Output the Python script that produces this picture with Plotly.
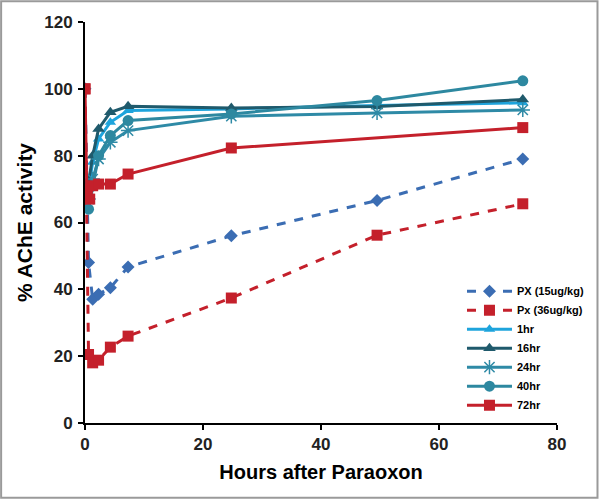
import plotly.graph_objects as go

# ---- data ----
t_px = [0, 0.6, 1.3, 2.3, 4.3, 7.3, 24.8, 49.5, 74.2]
px15 = [100, 48, 37, 38.5, 40.5, 46.7, 56, 66.6, 79]
px36 = [100, 20.5, 18, 18.8, 22.7, 26, 37.4, 56.2, 65.6]

t_rec = [0.6, 1.3, 2.3, 4.3, 7.3, 24.8, 49.5, 74.2]
hr1 = [70, 78, 85, 90, 93.5, 94, 95, 95.8]
hr16 = [72, 80, 88, 93, 94.8, 94.3, 94.7, 96.8]
hr24 = [67, 73, 79, 84, 87.5, 91.8, 92.8, 93.7]
hr40 = [64, 71, 80, 86, 90.5, 92.5, 96.5, 102.4]

t_72 = [0, 0.3, 0.8, 1.3, 2.3, 4.3, 7.3, 24.8, 74.2]
hr72 = [100, 70, 67, 71, 71.5, 71.5, 74.5, 82.3, 88.4]

x_ticks = [0, 20, 40, 60, 80]
y_ticks = [0, 20, 40, 60, 80, 100, 120]

BLUE = "#3b6db3"
RED = "#c4202b"
LIGHT = "#1ea4dc"
DARK = "#1f5a6c"
TEAL24 = "#2e8aa6"
TEAL40 = "#2d88a0"

fig = go.Figure()
fig.add_trace(go.Scatter(x=t_px, y=px15, name="PX (15ug/kg)", mode="lines+markers",
                         line=dict(color=BLUE, width=3, dash="dash"),
                         marker=dict(symbol="diamond", size=10, color=BLUE)))
fig.add_trace(go.Scatter(x=t_px, y=px36, name="Px (36ug/kg)", mode="lines+markers",
                         line=dict(color=RED, width=3, dash="dash"),
                         marker=dict(symbol="square", size=11, color=RED)))
fig.add_trace(go.Scatter(x=t_rec, y=hr1, name="1hr", mode="lines+markers",
                         line=dict(color=LIGHT, width=3),
                         marker=dict(symbol="triangle-up", size=10, color=LIGHT)))
fig.add_trace(go.Scatter(x=t_rec, y=hr16, name="16hr", mode="lines+markers",
                         line=dict(color=DARK, width=3),
                         marker=dict(symbol="triangle-up", size=11, color=DARK)))
fig.add_trace(go.Scatter(x=t_rec, y=hr24, name="24hr", mode="lines+markers",
                         line=dict(color=TEAL24, width=3),
                         marker=dict(symbol="asterisk-open", size=12, color=TEAL24,
                                     line=dict(color=TEAL24, width=1.5))))
fig.add_trace(go.Scatter(x=t_rec, y=hr40, name="40hr", mode="lines+markers",
                         line=dict(color=TEAL40, width=3),
                         marker=dict(symbol="circle", size=11, color=TEAL40)))
fig.add_trace(go.Scatter(x=t_72, y=hr72, name="72hr", mode="lines+markers",
                         line=dict(color=RED, width=3),
                         marker=dict(symbol="square", size=11, color=RED)))

axis_font = dict(family="Liberation Sans, Arial, sans-serif", size=17, color="#222222")
fig.update_layout(
    width=600, height=499,
    margin=dict(l=85, r=42, t=22, b=76),
    paper_bgcolor="white", plot_bgcolor="white",
    font=dict(family="Liberation Sans, Arial, sans-serif"),
    xaxis=dict(range=[0, 80], tickvals=x_ticks, ticktext=[f"<b>{v}</b>" for v in x_ticks],
               showgrid=False, zeroline=False, showline=True, linecolor="black", linewidth=2,
               ticks="outside", ticklen=5, tickwidth=2, tickcolor="black",
               tickfont=axis_font,
               title=dict(text="<b>Hours after Paraoxon</b>", font=dict(size=20, color="black"),
                          standoff=12)),
    yaxis=dict(range=[0, 120], tickvals=y_ticks, ticktext=[f"<b>{v}</b>" for v in y_ticks],
               showgrid=False, zeroline=False, showline=True, linecolor="black", linewidth=2,
               ticks="outside", ticklen=5, tickwidth=2, tickcolor="black",
               tickfont=axis_font, ticklabelstandoff=2,
               title=dict(text="<b>% AChE activity</b>", font=dict(size=21, color="black"),
                          standoff=6)),
    legend=dict(x=0.797, y=0.365, xanchor="left", yanchor="top",
                bgcolor="rgba(0,0,0,0)", itemwidth=45,
                font=dict(family="Liberation Sans, Arial, sans-serif", size=11, color="black",
                          weight="bold")),
    shapes=[dict(type="rect", xref="paper", yref="paper",
                 x0=-85/473 + 0.002, x1=1 + 42/473 - 0.003, y0=-76/401 + 0.003, y1=1 + 22/401 - 0.003,
                 line=dict(color="#9a9a9a", width=2), layer="below")],
)
fig.write_html("out.html", config={"displayModeBar": False},
               post_script="document.body.style.margin='0';")
